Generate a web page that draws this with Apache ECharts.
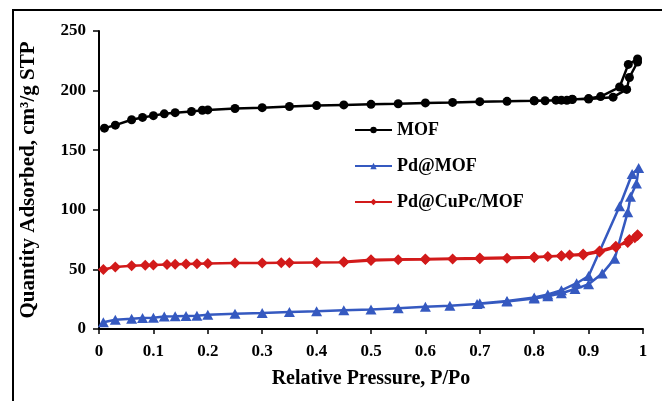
<!DOCTYPE html>
<html>
<head>
<meta charset="utf-8">
<script src="https://cdn.jsdelivr.net/npm/echarts@6/dist/echarts.min.js"></script>
<style>
  html, body { margin: 0; padding: 0; background: #fff; }
  #chart { width: 662px; height: 401px; }
</style>
</head>
<body>
<div id="chart"></div>
<script>
// isotherms: adsorption branch followed by desorption branch, [P/Po, quantity]
var mofData = [
  [0.01, 168.5], [0.03, 171], [0.06, 175.5], [0.08, 177.5], [0.10, 179], [0.12, 180.5],
  [0.14, 181.5], [0.17, 182.5], [0.19, 183.5], [0.20, 183.8], [0.25, 185], [0.30, 185.7],
  [0.35, 186.7], [0.40, 187.4], [0.45, 188], [0.50, 188.5], [0.55, 189], [0.60, 189.7],
  [0.65, 190.1], [0.70, 190.7], [0.75, 191], [0.80, 191.4], [0.82, 191.5], [0.84, 192],
  [0.86, 191.8], [0.87, 192.8], [0.90, 193], [0.945, 194.5], [0.97, 201], [0.975, 211],
  [0.99, 224],
  [0.99, 226.5], [0.973, 222], [0.957, 203], [0.922, 195], [0.90, 193.3], [0.87, 192.5],
  [0.85, 192], [0.80, 191.5]
]
var pdMofData = [
  [0.008, 5.6], [0.03, 7.8], [0.06, 8.6], [0.08, 9.2], [0.10, 9.4], [0.12, 10.4],
  [0.14, 10.6], [0.16, 11], [0.18, 11.2], [0.20, 12], [0.25, 12.8], [0.30, 13.4],
  [0.35, 14.2], [0.40, 14.8], [0.45, 15.8], [0.50, 16.4], [0.55, 17.5], [0.60, 18.6],
  [0.645, 19.5], [0.695, 21], [0.75, 23], [0.80, 25.5], [0.825, 27.5], [0.85, 30],
  [0.875, 33.5], [0.90, 37.5], [0.925, 46.5], [0.948, 59], [0.972, 98], [0.977, 111],
  [0.988, 122], [0.992, 135],
  [0.98, 130], [0.957, 103], [0.90, 44.5], [0.878, 38.4], [0.85, 32.5], [0.825, 29],
  [0.80, 26.5], [0.75, 23.5], [0.70, 21.5]
]
var pdCuPcData = [
  [0.008, 50], [0.03, 52], [0.06, 53], [0.085, 53.5], [0.10, 53.7], [0.125, 54.2],
  [0.14, 54.4], [0.16, 54.6], [0.18, 54.8], [0.20, 55], [0.25, 55.3], [0.30, 55.4],
  [0.335, 55.6], [0.35, 55.6], [0.40, 55.8], [0.45, 56], [0.50, 57.5], [0.55, 58],
  [0.60, 58.3], [0.65, 58.7], [0.70, 59], [0.75, 59.4], [0.80, 60], [0.825, 60.8],
  [0.85, 61.3], [0.865, 62], [0.89, 63], [0.92, 65.5], [0.95, 69.5], [0.972, 72.5],
  [0.985, 76.5], [0.99, 78.5],
  [0.99, 79], [0.975, 75], [0.95, 68.5], [0.92, 64.5], [0.89, 62], [0.85, 61.5],
  [0.80, 60.5], [0.70, 59.5], [0.60, 58.8], [0.50, 58.2], [0.45, 56.5]
]
var seriesNames = ['MOF', 'Pd@MOF', 'Pd@CuPc/MOF']
var xTicks = ['0', '0.1', '0.2', '0.3', '0.4', '0.5', '0.6', '0.7', '0.8', '0.9', '1']

var font = 'Liberation Serif'
var chart = echarts.init(document.getElementById('chart'))

function lineSeries (name, data, color, symbol, size) {
  return {
    name: name,
    type: 'line',
    data: data,
    symbol: symbol,
    symbolSize: size,
    color: color,
    lineStyle: { color: color, width: 2.5 },
    itemStyle: { color: color },
    animation: false
  }
}

var option = {
  backgroundColor: '#fff',
  graphic: [{
    type: 'rect',
    silent: true,
    shape: { x: 13, y: 10, width: 700, height: 420 },
    style: { fill: 'none', stroke: '#000', lineWidth: 2 }
  }],
  grid: { left: 99, right: 19, top: 31, bottom: 72 },
  legend: {
    data: seriesNames,
    orient: 'vertical',
    left: 349,
    top: 116,
    itemWidth: 37,
    itemHeight: 8,
    itemGap: 18,
    textStyle: { fontFamily: font, fontWeight: 'bold', fontSize: 18, color: '#000', lineHeight: 18 }
  },
  xAxis: {
    type: 'value',
    min: 0,
    max: 1,
    interval: 0.1,
    name: 'Relative Pressure, P/Po',
    nameLocation: 'middle',
    nameGap: 40,
    nameTextStyle: { fontFamily: font, fontWeight: 'bold', fontSize: 20, color: '#000' },
    splitLine: { show: false },
    axisLine: { lineStyle: { color: '#000', width: 2 } },
    axisTick: { length: 5, lineStyle: { color: '#000', width: 1.5 } },
    axisLabel: {
      margin: 14,
      fontFamily: font, fontWeight: 'bold', fontSize: 17, color: '#000',
      formatter: function (v) { return xTicks[Math.round(v * 10)] }
    }
  },
  yAxis: {
    type: 'value',
    min: 0,
    max: 250,
    interval: 50,
    name: 'Quantity Adsorbed, cm³/g STP',
    nameLocation: 'middle',
    nameGap: 60,
    nameTextStyle: { fontFamily: font, fontWeight: 'bold', fontSize: 21, color: '#000' },
    splitLine: { show: false },
    axisLine: { show: true, lineStyle: { color: '#000', width: 2 } },
    axisTick: { show: true, length: 6, lineStyle: { color: '#000', width: 1.5 } },
    axisLabel: { margin: 13, fontFamily: font, fontWeight: 'bold', fontSize: 17, color: '#000' }
  },
  series: [
    lineSeries(seriesNames[0], mofData, '#000000', 'circle', 9),
    lineSeries(seriesNames[1], pdMofData, '#3559c0', 'triangle', [11, 10]),
    lineSeries(seriesNames[2], pdCuPcData, '#d21a1a', 'diamond', [11, 11])
  ]
}
chart.setOption(option)
</script>
</body>
</html>
